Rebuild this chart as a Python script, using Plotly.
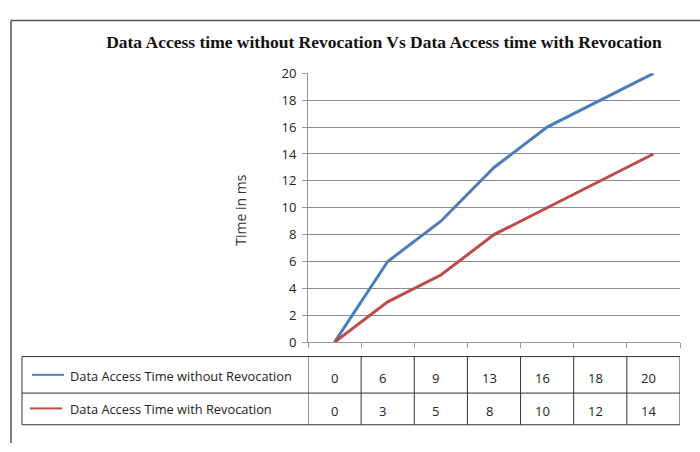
import plotly.graph_objects as go

W, H = 700, 452

categories = [0, 1, 2, 3, 4, 5, 6]
series_names = ["Data Access Time without Revocation", "Data Access Time with Revocation"]
without_rev = [0, 6, 9, 13, 16, 18, 20]
with_rev = [0, 3, 5, 8, 10, 12, 14]
y_ticks = [0, 2, 4, 6, 8, 10, 12, 14, 16, 18, 20]
colors = ["#4A7EBB", "#BE4B48"]

def px(x):
    return x / W

def py(y):
    return 1 - y / H

fig = go.Figure()
for name, vals, c in zip(series_names, [without_rev, with_rev], colors):
    fig.add_trace(go.Scatter(x=categories, y=vals, mode="lines", name=name,
                             line=dict(color=c, width=3), showlegend=False))

SANS = "Open Sans, Liberation Sans, Arial, sans-serif"
label_font = dict(family=SANS, size=12.8, color="#222")
value_font = dict(family=SANS, size=13, color="#222")

fig.update_layout(
    width=W, height=H, margin=dict(l=0, r=0, t=0, b=0),
    paper_bgcolor="white", plot_bgcolor="white",
    title=dict(text="<b>Data Access time without Revocation Vs Data Access time with Revocation</b>",
               x=px(384), xanchor="center", y=py(42), yanchor="middle",
               font=dict(family="Liberation Serif, Times New Roman, serif", size=17.5, color="#111")),
    xaxis=dict(domain=[px(308), px(680)], range=[-0.5, 6.5],
               tickvals=[i - 0.5 for i in range(8)], showticklabels=False,
               ticks="outside", ticklen=5, tickcolor="#999", showgrid=False,
               showline=True, linecolor="#999", linewidth=1, zeroline=False),
    yaxis=dict(domain=[py(347), py(67)], range=[0, 20], tickvals=y_ticks,
               ticks="outside", ticklen=5, tickcolor="#999", ticklabelstandoff=3,
               showgrid=True, gridcolor="#8c8c8c", gridwidth=1,
               showline=True, linecolor="#999", linewidth=1, zeroline=False,
               tickfont=dict(family=SANS, size=13, color="#222")),
)

# y axis title
fig.add_annotation(text="Time in ms", textangle=-90, x=px(241), y=py(210),
                   xref="paper", yref="paper", showarrow=False, xanchor="center", yanchor="middle",
                   font=dict(family=SANS, size=14, color="#333"))

shapes = []
line_c = "#333"
# outer border
shapes.append(dict(type="line", xref="paper", yref="paper", x0=px(11), x1=px(700), y0=py(12), y1=py(12),
                   line=dict(color="#555", width=1.5)))
shapes.append(dict(type="line", xref="paper", yref="paper", x0=px(11), x1=px(11), y0=py(12), y1=py(452),
                   line=dict(color="#555", width=1.5)))

# data table
t_top, t_mid, t_bot = 362, 400, 433
t_left, t_right = 22, 680
for yy in [t_top, t_mid, t_bot]:
    shapes.append(dict(type="line", xref="paper", yref="paper", x0=px(t_left), x1=px(t_right),
                       y0=py(yy), y1=py(yy), line=dict(color=line_c, width=1)))
shapes.append(dict(type="line", xref="paper", yref="paper", x0=px(t_left), x1=px(t_left),
                   y0=py(t_top), y1=py(t_bot), line=dict(color=line_c, width=1)))
for i in range(len(categories) + 1):
    shapes.append(dict(type="line", xref="x", yref="paper", x0=i - 0.5, x1=i - 0.5,
                       y0=py(t_top), y1=py(t_bot), line=dict(color=line_c, width=1)))

row_y = [382, 417]
key_x = [(32, 64), (30, 62)]
for r, (name, vals, c) in enumerate(zip(series_names, [without_rev, with_rev], colors)):
    shapes.append(dict(type="line", xref="paper", yref="paper", x0=px(key_x[r][0]), x1=px(key_x[r][1]),
                       y0=py(row_y[r] - 1), y1=py(row_y[r] - 1), line=dict(color=c, width=2)))
    fig.add_annotation(text=name, x=px(68), y=py(row_y[r]), xref="paper", yref="paper",
                       showarrow=False, xanchor="left", yanchor="middle", font=label_font)
    for cat, v in zip(categories, vals):
        fig.add_annotation(text=str(v), x=cat, y=py(row_y[r] + 2), xref="x", yref="paper",
                           xshift=0 if cat == categories[0] else -5,
                           showarrow=False, xanchor="center", yanchor="middle", font=value_font)

fig.update_layout(shapes=shapes)
fig.write_html("out.html", config={"displayModeBar": False},
               post_script="document.body.style.margin='0';document.body.style.overflow='hidden';")
